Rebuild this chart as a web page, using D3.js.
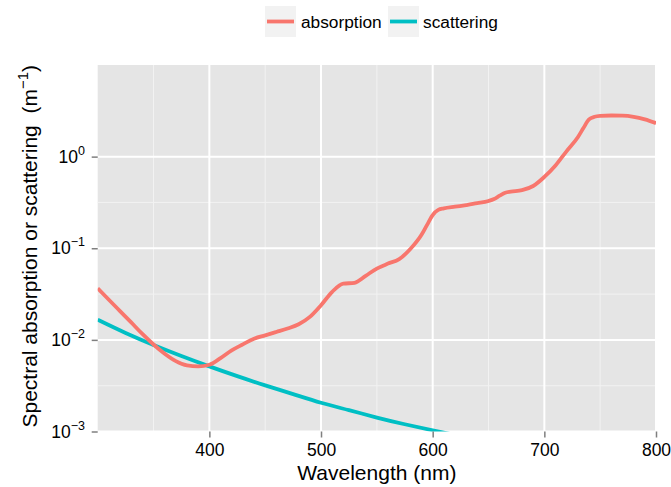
<!DOCTYPE html>
<html>

<head>
  <meta charset='utf-8'>
  <style>
    body { margin: 0; background: #fff; }
    text { font-family: "Liberation Sans", Arial, sans-serif; }
  </style>
  <script type="text/javascript" src="https://cdn.jsdelivr.net/npm/d3@7"></script>
</head>

<body>

  <script type='module'>
    // values
    const absWl = [300, 310, 320, 330, 340, 350, 360, 370, 380, 390, 400, 410, 420, 430, 440, 450, 460, 470,
      480, 490, 500, 510, 520, 530, 540, 550, 560, 570, 580, 590, 595, 600, 605, 610, 620, 630, 640, 650,
      655, 660, 665, 670, 680, 690, 700, 710, 720, 730, 735, 740, 745, 750, 760, 770, 780, 790, 800]
    const absorption = [0.0366, 0.0274, 0.0206, 0.0155, 0.0116, 0.0089, 0.00706, 0.00586, 0.00526, 0.00513,
      0.00535, 0.00632, 0.00768, 0.00893, 0.0103, 0.0112, 0.0122, 0.0133, 0.0148, 0.0178, 0.0239, 0.0335,
      0.041, 0.042, 0.05, 0.06, 0.068, 0.076, 0.098, 0.14, 0.18, 0.23, 0.262, 0.272, 0.284, 0.296, 0.31,
      0.328, 0.345, 0.375, 0.404, 0.415, 0.43, 0.478, 0.6, 0.8, 1.15, 1.63, 2.05, 2.55, 2.72, 2.78, 2.81,
      2.8, 2.72, 2.55, 2.32]
    const scatWl = [300, 325, 350, 375, 400, 425, 450, 475, 500, 525, 550, 575, 600, 625, 650]
    const scattering = [0.0166, 0.0119, 0.0088, 0.00667, 0.00514, 0.00402, 0.00319, 0.00256, 0.00206,
      0.00171, 0.00142, 0.00120, 0.00103, 0.00089, 0.00077]
    const xTicks = [400, 500, 600, 700, 800]
    const xMinor = [350, 450, 550, 650, 750]
    const yTicks = [1e-3, 1e-2, 1e-1, 1]
    const yMinor = [Math.pow(10, -2.5), Math.pow(10, -1.5), Math.pow(10, -0.5)]
    const seriesNames = ["absorption", "scattering"]
    const colors = ["#F8766D", "#00BFC4"]

    let [width, height] = [671, 487]
    const panel = { left: 97.7, right: 656, top: 65, bottom: 431.5 }

    const svg = d3.select("body").append("svg")
      .attr("width", width).attr("height", height)
      .attr("viewBox", [0, 0, width, height]);

    const x = d3.scaleLinear().domain([300, 800]).range([panel.left, panel.right])
    const y = d3.scaleLog().domain([1e-3, 10]).range([panel.bottom, panel.top])

    svg.append("defs").append("clipPath").attr("id", "clip")
      .append("rect")
      .attr("x", panel.left).attr("y", panel.top)
      .attr("width", panel.right - panel.left).attr("height", panel.bottom - panel.top)

    svg.append("rect")
      .attr("x", panel.left).attr("y", panel.top)
      .attr("width", panel.right - panel.left).attr("height", panel.bottom - panel.top)
      .attr("fill", "#E5E5E5")

    // grid
    const grid = svg.append("g")
    grid.selectAll(".vmin").data(xMinor).join("line")
      .attr("x1", d => x(d)).attr("x2", d => x(d))
      .attr("y1", panel.top).attr("y2", panel.bottom)
      .attr("stroke", "#F2F2F2").attr("stroke-width", 1)
    grid.selectAll(".hmin").data(yMinor).join("line")
      .attr("x1", panel.left).attr("x2", panel.right)
      .attr("y1", d => y(d)).attr("y2", d => y(d))
      .attr("stroke", "#F2F2F2").attr("stroke-width", 1)
    grid.selectAll(".vmaj").data(xTicks).join("line")
      .attr("x1", d => x(d)).attr("x2", d => x(d))
      .attr("y1", panel.top).attr("y2", panel.bottom)
      .attr("stroke", "#fff").attr("stroke-width", 2)
    grid.selectAll(".hmaj").data(yTicks).join("line")
      .attr("x1", panel.left).attr("x2", panel.right)
      .attr("y1", d => y(d)).attr("y2", d => y(d))
      .attr("stroke", "#fff").attr("stroke-width", 2)

    // lines
    const gLines = svg.append("g").attr("clip-path", "url(#clip)")
      .attr("fill", "none").attr("stroke-width", 3.8)
      .attr("stroke-linejoin", "round").attr("stroke-linecap", "butt")
    const absLine = d3.line().x(d => x(d[0])).y(d => y(d[1])).curve(d3.curveMonotoneX)
    const scatLine = d3.line().x(d => x(d[0])).y(d => y(d[1])).curve(d3.curveNatural)
    gLines.append("path")
      .attr("d", scatLine(scatWl.map((w, i) => [w, scattering[i]])))
      .attr("stroke", colors[1])
    gLines.append("path")
      .attr("d", absLine(absWl.map((w, i) => [w, absorption[i]])))
      .attr("stroke", colors[0])

    // x axis
    const gx = svg.append("g").attr("transform", `translate(0,${panel.bottom})`)
    gx.call(d3.axisBottom(x).tickValues(xTicks).tickSize(6).tickPadding(6).tickFormat(d3.format("d")))
    gx.select(".domain").remove()
    gx.selectAll(".tick line").attr("stroke", "#7F7F7F").attr("stroke-width", 1.5)
    gx.selectAll(".tick text").attr("font-size", 17.5).attr("fill", "#000")
      .attr("font-family", "Liberation Sans, Arial, sans-serif")

    // y axis
    const gy = svg.append("g").attr("transform", `translate(${panel.left},0)`)
    gy.call(d3.axisLeft(y).tickValues(yTicks).tickSize(6).tickFormat(""))
    gy.select(".domain").remove()
    gy.selectAll(".tick line").attr("stroke", "#7F7F7F").attr("stroke-width", 1.5)
    const yl = svg.append("g").selectAll("text").data(yTicks).join("text")
      .attr("x", 85).attr("y", d => y(d) + 6)
      .attr("text-anchor", "end").attr("font-size", 17.5).attr("fill", "#000")
    yl.append("tspan").text("10")
    yl.append("tspan").attr("dy", -8).attr("font-size", 12.5)
      .text(d => { const e = Math.round(Math.log10(d)); return e < 0 ? "\u2212" + (-e) : e })

    // axis titles
    svg.append("text")
      .attr("x", (panel.left + panel.right) / 2).attr("y", 480)
      .attr("text-anchor", "middle").attr("font-size", 21).attr("fill", "#000")
      .text("Wavelength (nm)")
    const yt = svg.append("text")
      .attr("transform", `translate(37,${(panel.top + panel.bottom) / 2 - 2}) rotate(-90)`)
      .attr("text-anchor", "middle").attr("font-size", 21).attr("fill", "#000")
    yt.append("tspan").text("Spectral absorption or scattering\u00a0\u00a0(m")
    yt.append("tspan").attr("dy", -9).attr("font-size", 15).text("\u22121")
    yt.append("tspan").attr("dy", 9).text(")")

    // legend
    const legend = svg.append("g")
    const keyX = [265, 388]
    const labelX = [301, 423]
    seriesNames.forEach((name, i) => {
      legend.append("rect")
        .attr("x", keyX[i]).attr("y", 6).attr("width", 31).attr("height", 31)
        .attr("fill", "#F2F2F2")
      legend.append("line")
        .attr("x1", keyX[i] + 2).attr("x2", keyX[i] + 29)
        .attr("y1", 21.5).attr("y2", 21.5)
        .attr("stroke", colors[i]).attr("stroke-width", 3.8)
      legend.append("text")
        .attr("x", labelX[i]).attr("y", 27.5)
        .attr("font-size", 17.3).attr("fill", "#000")
        .text(name)
    })
  </script>
</body>

</html>
